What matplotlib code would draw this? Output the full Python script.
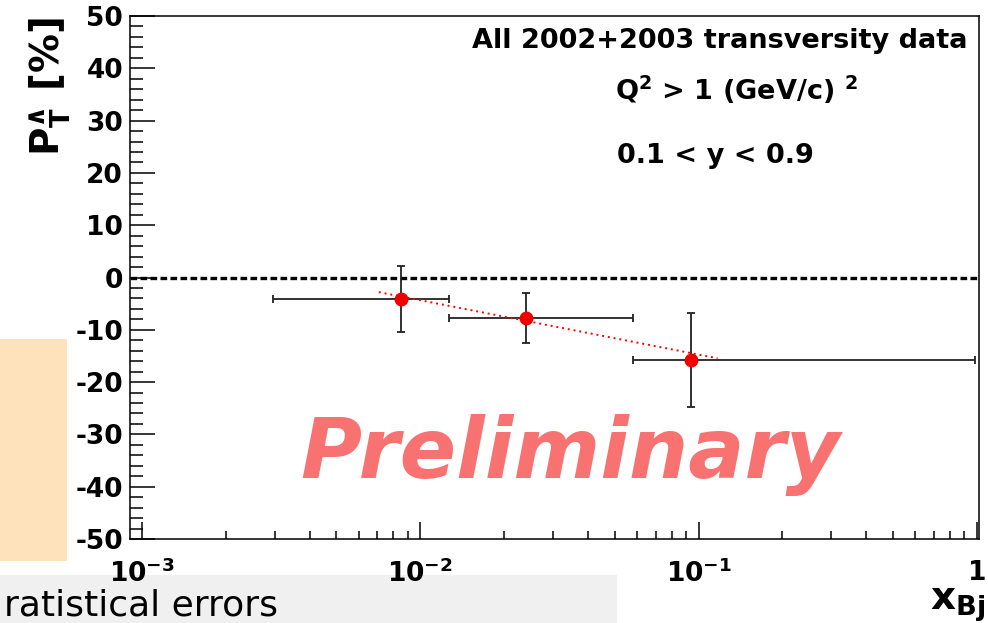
import matplotlib
matplotlib.use('Agg')
import matplotlib.pyplot as plt
from matplotlib.patches import Rectangle
from matplotlib.ticker import FixedLocator, NullFormatter

plt.rcParams['font.family'] = ['DejaVu Sans']
plt.rcParams['mathtext.fontset'] = 'dejavusans'
plt.rcParams['mathtext.default'] = 'bf'
plt.rcParams['axes.unicode_minus'] = False

# measured points (x_Bj bins) and Lambda polarisation in %
x_center = [0.00855, 0.0240, 0.0940]
x_low = [0.00296, 0.0127, 0.0583]
x_high = [0.0127, 0.0583, 0.98]
p_t = [-4.1, -7.8, -15.8]
p_err = [6.3, 4.8, 8.95]

# red dotted fit line end points
fit_x = [0.0071, 0.117]
fit_y = [-2.8, -15.45]

x_ticks = [1e-3, 1e-2, 1e-1, 1]
x_tick_labels = [r'10$^{-3}$', r'10$^{-2}$', r'10$^{-1}$', '1']
y_ticks = [-50, -40, -30, -20, -10, 0, 10, 20, 30, 40, 50]

fig = plt.figure(figsize=(9.88, 6.23), dpi=100)
ax = fig.add_axes([130 / 988, 84 / 623, 849 / 988, 523 / 623])

# slide decorations behind the plot
fig.add_artist(Rectangle((0, 62 / 623), 67 / 988, 222 / 623, transform=fig.transFigure,
                         facecolor='#fde2bc', edgecolor='none', zorder=-1))
fig.add_artist(Rectangle((0, 0), 617 / 988, 48 / 623, transform=fig.transFigure,
                         facecolor='#f0f0f0', edgecolor='none', zorder=-1))
fig.text(0.004, 1 / 623, 'ratistical errors', fontsize=26, ha='left', va='bottom')

ax.set_xscale('log')
ax.set_xlim(0.000906, 1.017)
ax.set_ylim(-50, 50)

ax.axhline(0, color='black', lw=2.4, linestyle=(0, (2.0, 1.0)), zorder=1)

xerr = [[c - lo for c, lo in zip(x_center, x_low)],
        [hi - c for c, hi in zip(x_center, x_high)]]
ax.errorbar(x_center, p_t, xerr=xerr, yerr=p_err, fmt='none', ecolor='#222222',
            elinewidth=1.3, capsize=3, capthick=1.3, zorder=2)
ax.plot(fit_x, fit_y, color='red', lw=1.4, linestyle=(0, (1, 2)), zorder=3)
ax.plot(x_center, p_t, 'o', color='#ee0000', markersize=9, zorder=4)

ax.text(0.518, 0.117, 'Preliminary', transform=ax.transAxes, fontsize=60,
        fontweight='bold', fontstyle='italic', color='#f87272', ha='center', va='baseline')

ax.text(0.987, 0.939, 'All 2002+2003 transversity data', transform=ax.transAxes,
        fontsize=19.5, fontweight='bold', ha='right', va='baseline')
ax.text(0.571, 0.839, r'Q$^{2}$ > 1 (GeV/c) $^{2}$', transform=ax.transAxes,
        fontsize=19.5, fontweight='bold', ha='left', va='baseline')
ax.text(0.574, 0.719, '0.1 < y < 0.9', transform=ax.transAxes,
        fontsize=19.5, fontweight='bold', ha='left', va='baseline')

ax.xaxis.set_major_locator(FixedLocator(x_ticks))
ax.set_xticklabels(x_tick_labels)
ax.xaxis.set_minor_locator(FixedLocator([m * 10.0 ** e for e in (-3, -2, -1) for m in range(2, 10)]))
ax.xaxis.set_minor_formatter(NullFormatter())
ax.set_yticks(y_ticks)
ax.yaxis.set_minor_locator(FixedLocator(range(-50, 51, 2)))

ax.tick_params(axis='both', which='both', direction='in', top=False, right=False)
ax.tick_params(axis='x', which='major', length=12, width=1.1, labelsize=19, pad=15)
ax.tick_params(axis='x', which='minor', length=6, width=1.1)
ax.tick_params(axis='y', which='major', length=18, width=1.1, labelsize=19, pad=5)
ax.tick_params(axis='y', which='minor', length=9, width=1.1)
for lab in ax.get_xticklabels() + ax.get_yticklabels():
    lab.set_fontweight('bold')
for s in ax.spines.values():
    s.set_linewidth(1.1)

fig.text(50 / 988, 1 - 17 / 623, r'P$_{T}^{\wedge}$ [%]', rotation=90, fontsize=28,
         fontweight='bold', ha='center', va='top')
fig.text(0.997, 13 / 623, r'x$_{Bj}$', fontsize=28, fontweight='bold', ha='right', va='baseline')

fig.savefig('out.png', dpi=100)
